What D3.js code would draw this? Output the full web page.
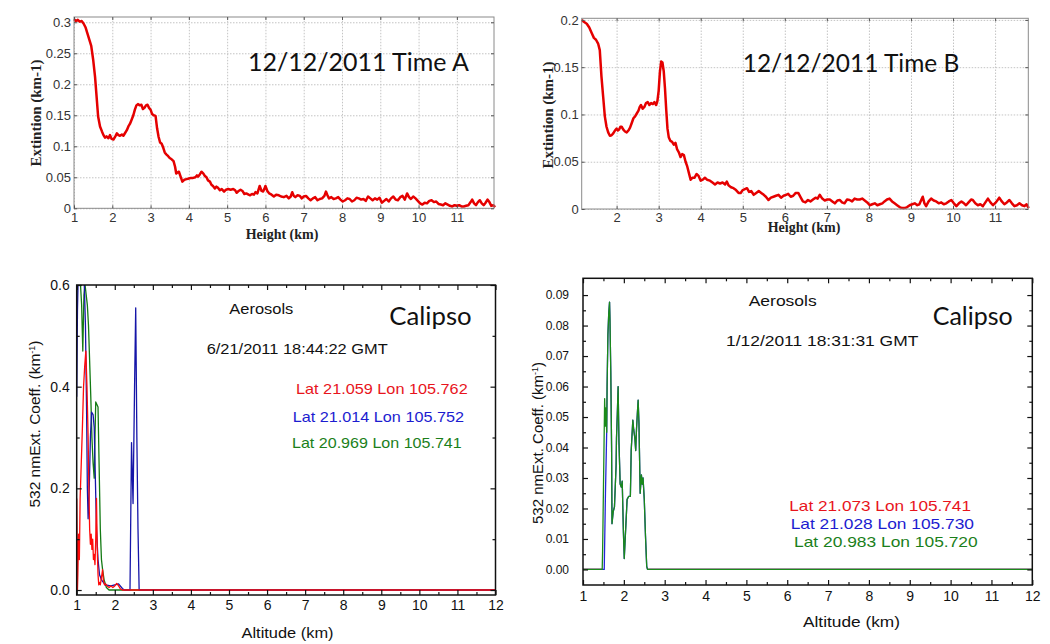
<!DOCTYPE html>
<html><head><meta charset="utf-8">
<script src="https://cdn.jsdelivr.net/npm/d3@7"></script>
<style>
body{margin:0;background:#fff;}
svg{display:block;}
</style></head>
<body>
<svg id="chart" width="1050" height="644"></svg>
<script>
// ---------- DATA ----------
const xTicksTopA = [1,2,3,4,5,6,7,8,9,10,11];
const xTicksTopB = [2,3,4,5,6,7,8,9,10,11];
const yTicksTopA = [0,0.05,0.1,0.15,0.2,0.25,0.3];
const yTicksTopB = [0,0.05,0.1,0.15,0.2];
const xTicksBottom = [1,2,3,4,5,6,7,8,9,10,11,12];
const yTicksC = [0,0.2,0.4,0.6];
const yTicksD = [0,0.01,0.02,0.03,0.04,0.05,0.06,0.07,0.08,0.09];

const titleA = "12/12/2011 Time A";
const titleB = "12/12/2011 Time B";
const timeC = "6/21/2011 18:44:22 GMT";
const timeD = "1/12/2011 18:31:31 GMT";
const legendC = ["Lat 21.059 Lon 105.762","Lat 21.014 Lon 105.752","Lat 20.969 Lon 105.741"];
const legendD = ["Lat 21.073 Lon 105.741","Lat 21.028 Lon 105.730","Lat 20.983 Lon 105.720"];

// Panel A: [height km, extinction]
const extinctionA = [
[1.00,0.305],[1.05,0.302],[1.10,0.304],[1.15,0.301],[1.20,0.302],[1.25,0.298],[1.30,0.292],[1.35,0.282],[1.40,0.272],[1.45,0.262],
[1.50,0.240],[1.55,0.212],[1.59,0.180],[1.63,0.148],[1.68,0.132],[1.73,0.124],[1.77,0.118],[1.81,0.114],[1.85,0.116],[1.90,0.113],
[1.94,0.118],[1.98,0.112],[2.03,0.111],[2.08,0.116],[2.12,0.121],[2.16,0.118],[2.20,0.117],[2.25,0.119],[2.29,0.117],[2.33,0.121],
[2.38,0.126],[2.42,0.132],[2.46,0.136],[2.50,0.142],[2.55,0.150],[2.59,0.159],[2.63,0.166],[2.67,0.168],[2.72,0.166],[2.76,0.167],
[2.80,0.160],[2.84,0.162],[2.88,0.166],[2.92,0.167],[2.96,0.162],[3.00,0.159],[3.04,0.152],[3.08,0.150],[3.13,0.149],[3.17,0.129],
[3.21,0.115],[3.25,0.106],[3.29,0.104],[3.33,0.098],[3.37,0.090],[3.41,0.087],[3.46,0.084],[3.50,0.081],[3.55,0.079],[3.60,0.076],
[3.64,0.067],[3.67,0.056],[3.71,0.058],[3.74,0.059],[3.78,0.052],[3.83,0.043],[3.88,0.046],[3.94,0.047],[4.00,0.048],[4.06,0.049],
[4.11,0.049],[4.17,0.050],[4.21,0.053],[4.24,0.051],[4.29,0.055],[4.33,0.059],[4.38,0.056],[4.42,0.052],[4.46,0.050],[4.50,0.045],
[4.55,0.043],[4.59,0.038],[4.63,0.036],[4.68,0.032],[4.72,0.035],[4.76,0.033],[4.81,0.029],[4.86,0.031],[4.92,0.027],[4.97,0.030],
[5.03,0.031],[5.09,0.030],[5.16,0.031],[5.21,0.029],[5.25,0.025],[5.30,0.028],[5.35,0.030],[5.40,0.028],[5.45,0.023],[5.50,0.024],
[5.56,0.022],[5.60,0.021],[5.65,0.023],[5.70,0.022],[5.74,0.026],[5.79,0.024],[5.85,0.036],[5.90,0.028],[5.94,0.027],[5.97,0.031],
[6.00,0.036],[6.05,0.028],[6.10,0.024],[6.16,0.022],[6.22,0.019],[6.28,0.022],[6.35,0.021],[6.41,0.019],[6.48,0.018],[6.55,0.020],
[6.61,0.016],[6.66,0.019],[6.70,0.026],[6.74,0.020],[6.78,0.018],[6.84,0.021],[6.90,0.020],[6.95,0.016],[7.00,0.019],[7.06,0.020],
[7.12,0.016],[7.18,0.013],[7.24,0.016],[7.30,0.018],[7.36,0.013],[7.42,0.015],[7.48,0.016],[7.54,0.020],[7.58,0.027],[7.62,0.021],
[7.66,0.016],[7.72,0.018],[7.78,0.015],[7.84,0.016],[7.90,0.018],[7.96,0.014],[8.02,0.011],[8.08,0.013],[8.14,0.016],[8.20,0.015],
[8.26,0.011],[8.32,0.013],[8.38,0.017],[8.44,0.016],[8.50,0.014],[8.56,0.015],[8.62,0.012],[8.68,0.019],[8.74,0.016],[8.80,0.013],
[8.86,0.016],[8.92,0.014],[8.98,0.017],[9.04,0.009],[9.10,0.012],[9.16,0.015],[9.22,0.011],[9.28,0.016],[9.34,0.019],[9.40,0.014],
[9.46,0.013],[9.52,0.018],[9.58,0.020],[9.64,0.014],[9.70,0.024],[9.75,0.018],[9.80,0.015],[9.86,0.019],[9.92,0.016],[9.98,0.012],
[10.04,0.008],[10.10,0.006],[10.16,0.009],[10.22,0.008],[10.28,0.012],[10.34,0.013],[10.40,0.010],[10.46,0.011],[10.52,0.007],[10.58,0.006],
[10.64,0.005],[10.70,0.008],[10.76,0.006],[10.82,0.004],[10.88,0.003],[10.94,0.005],[11.00,0.004],[11.06,0.005],[11.12,0.003],[11.18,0.003],
[11.24,0.004],[11.30,0.005],[11.36,0.010],[11.40,0.014],[11.45,0.008],[11.50,0.005],[11.55,0.010],[11.60,0.013],[11.65,0.008],[11.70,0.005],
[11.75,0.009],[11.80,0.014],[11.85,0.010],[11.90,0.004],[11.95,0.005],[12.00,0.002]
];

// Panel B: [height km, extinction]
const extinctionB = [
[1.17,0.200],[1.22,0.198],[1.29,0.196],[1.35,0.192],[1.41,0.186],[1.46,0.181],[1.51,0.179],[1.56,0.175],[1.60,0.168],[1.64,0.140],
[1.68,0.119],[1.72,0.098],[1.76,0.087],[1.80,0.081],[1.84,0.0775],[1.88,0.078],[1.92,0.080],[1.96,0.083],[2.00,0.085],[2.03,0.083],
[2.06,0.084],[2.09,0.087],[2.12,0.087],[2.16,0.084],[2.20,0.082],[2.24,0.081],[2.28,0.083],[2.32,0.086],[2.36,0.091],[2.40,0.096],
[2.44,0.098],[2.48,0.101],[2.52,0.104],[2.55,0.108],[2.58,0.110],[2.62,0.106],[2.66,0.108],[2.70,0.112],[2.74,0.113],[2.78,0.110],
[2.82,0.112],[2.86,0.111],[2.90,0.113],[2.94,0.110],[2.97,0.114],[3.00,0.125],[3.03,0.145],[3.06,0.156],[3.09,0.155],[3.12,0.146],
[3.15,0.128],[3.18,0.105],[3.21,0.085],[3.24,0.076],[3.28,0.072],[3.32,0.071],[3.36,0.068],[3.40,0.070],[3.44,0.063],[3.48,0.060],
[3.52,0.055],[3.56,0.058],[3.60,0.057],[3.64,0.050],[3.68,0.045],[3.72,0.038],[3.76,0.031],[3.80,0.033],[3.85,0.033],[3.90,0.037],
[3.95,0.035],[4.00,0.030],[4.05,0.031],[4.10,0.033],[4.15,0.031],[4.22,0.030],[4.28,0.028],[4.34,0.026],[4.40,0.028],[4.46,0.027],
[4.52,0.028],[4.58,0.026],[4.62,0.029],[4.66,0.025],[4.72,0.023],[4.78,0.022],[4.84,0.020],[4.90,0.017],[4.95,0.017],[5.00,0.020],
[5.05,0.021],[5.10,0.022],[5.15,0.018],[5.20,0.019],[5.26,0.015],[5.32,0.017],[5.38,0.019],[5.44,0.017],[5.50,0.015],[5.55,0.013],
[5.61,0.0095],[5.67,0.012],[5.73,0.013],[5.79,0.014],[5.85,0.015],[5.91,0.012],[5.97,0.014],[6.03,0.015],[6.08,0.016],[6.14,0.013],
[6.20,0.014],[6.26,0.017],[6.32,0.017],[6.38,0.012],[6.43,0.008],[6.49,0.007],[6.55,0.0095],[6.61,0.008],[6.67,0.010],[6.73,0.012],
[6.78,0.011],[6.83,0.015],[6.89,0.011],[6.95,0.009],[7.01,0.010],[7.07,0.010],[7.13,0.008],[7.19,0.006],[7.25,0.009],[7.31,0.0095],
[7.36,0.007],[7.42,0.006],[7.48,0.010],[7.54,0.0095],[7.60,0.008],[7.66,0.011],[7.72,0.010],[7.78,0.010],[7.84,0.011],[7.90,0.009],
[7.96,0.007],[8.02,0.004],[8.08,0.005],[8.14,0.006],[8.20,0.004],[8.26,0.005],[8.32,0.006],[8.37,0.008],[8.43,0.010],[8.49,0.011],
[8.55,0.008],[8.61,0.006],[8.67,0.004],[8.73,0.002],[8.79,0.001],[8.85,0.001],[8.91,0.002],[8.97,0.004],[9.03,0.005],[9.09,0.006],
[9.15,0.004],[9.20,0.005],[9.25,0.010],[9.28,0.013],[9.32,0.006],[9.36,0.003],[9.42,0.008],[9.48,0.011],[9.54,0.009],[9.60,0.008],
[9.66,0.006],[9.72,0.007],[9.78,0.005],[9.84,0.006],[9.90,0.008],[9.96,0.0095],[10.02,0.006],[10.08,0.003],[10.14,0.006],[10.20,0.008],
[10.26,0.006],[10.31,0.004],[10.37,0.007],[10.43,0.010],[10.47,0.0095],[10.53,0.006],[10.59,0.004],[10.65,0.005],[10.71,0.003],[10.77,0.007],
[10.83,0.011],[10.89,0.007],[10.95,0.004],[11.02,0.007],[11.10,0.012],[11.16,0.008],[11.22,0.005],[11.28,0.007],[11.34,0.0095],[11.40,0.006],
[11.46,0.003],[11.52,0.004],[11.58,0.006],[11.64,0.004],[11.70,0.003],[11.75,0.005],[11.80,0.001]
];

// Panel C (Calipso 6/21/2011): [altitude km, ext coeff]
const calipsoC_red = [
[1.00,0.18],[1.01,0.10],[1.02,0.0],[1.03,0.03],[1.05,0.11],[1.07,0.06],[1.09,0.18],[1.12,0.25],[1.15,0.32],[1.18,0.40],
[1.21,0.44],[1.24,0.47],[1.27,0.40],[1.30,0.30],[1.32,0.20],[1.34,0.12],[1.36,0.09],[1.38,0.11],[1.40,0.08],[1.42,0.10],
[1.44,0.06],[1.46,0.07],[1.48,0.05],[1.50,0.10],[1.52,0.18],[1.54,0.08],[1.56,0.03],[1.58,0.01],[1.60,0.015],[1.62,0.01],
[1.64,0.02],[1.66,0.03],[1.68,0.04],[1.70,0.02],[1.73,0.01],[1.76,0.012],[1.80,0.008],[1.85,0.005],[1.90,0.008],[1.95,0.005],
[2.00,0.008],[2.05,0.013],[2.10,0.008],[2.15,0.002],[2.20,0],[12.0,0]
];
const calipsoC_blue = [
[1.00,0.38],[1.02,0.55],[1.04,0.62],[1.10,0.65],[1.15,0.62],[1.20,0.60],[1.23,0.52],[1.26,0.35],[1.28,0.20],[1.30,0.14],
[1.33,0.20],[1.36,0.30],[1.39,0.35],[1.43,0.345],[1.46,0.32],[1.49,0.22],[1.52,0.12],[1.56,0.06],[1.60,0.03],[1.65,0.02],
[1.75,0.01],[1.90,0.008],[2.00,0.010],[2.10,0.012],[2.20,0.003],[2.25,0],[2.40,0],[2.44,0.29],[2.48,0.17],[2.52,0.40],
[2.55,0.555],[2.58,0.30],[2.61,0.12],[2.64,0],[12.0,0]
];
const calipsoC_green = [
[1.00,0.55],[1.02,0.62],[1.06,0.64],[1.10,0.60],[1.13,0.56],[1.16,0.47],[1.19,0.58],[1.22,0.60],[1.25,0.58],[1.28,0.56],
[1.31,0.52],[1.34,0.45],[1.37,0.38],[1.40,0.30],[1.43,0.25],[1.46,0.22],[1.48,0.30],[1.50,0.37],[1.53,0.365],[1.56,0.36],
[1.59,0.24],[1.62,0.12],[1.65,0.06],[1.68,0.04],[1.72,0.02],[1.78,0.005],[1.85,0],[12.0,0]
];

// Panel D (Calipso 1/12/2011); red profile is zero and hidden below green where green is zero
const calipsoD_red = [[1.0,0],[1.47,0],[1.5,null],[2.58,0],[12.0,0]];
const calipsoD_blue = [
[1.00,0],[1.52,0],[1.55,0.025],[1.58,0.045],[1.59,0.060],[1.61,0.077],[1.63,0.084],[1.65,0.0877],[1.66,0.082],[1.68,0.065],
[1.70,0.040],[1.71,0.015],[1.74,0.019],[1.77,0.0205],[1.81,0.034],[1.82,0.043],[1.84,0.051],[1.86,0.060],[1.88,0.042],[1.91,0.028],
[1.94,0.027],[1.96,0.029],[1.99,0.012],[2.01,0.0036],[2.04,0.012],[2.08,0.023],[2.12,0.024],[2.16,0.024],[2.18,0.039],[2.22,0.049],
[2.24,0.046],[2.27,0.043],[2.29,0.039],[2.31,0.046],[2.33,0.051],[2.35,0.0555],[2.37,0.048],[2.40,0.025],[2.43,0.031],[2.45,0.028],
[2.47,0.030],[2.50,0.023],[2.53,0.011],[2.56,0.001],[2.58,0],[12.0,0]
];
const calipsoD_green = [
[1.00,0],[1.47,0],[1.48,0.006],[1.50,0.026],[1.52,0.046],[1.53,0.056],[1.545,0.047],[1.56,0.053],[1.58,0.045],[1.59,0.060],
[1.61,0.077],[1.63,0.084],[1.65,0.0877],[1.66,0.082],[1.68,0.065],[1.70,0.040],[1.71,0.015],[1.74,0.019],[1.77,0.0205],[1.81,0.034],
[1.82,0.043],[1.84,0.051],[1.86,0.060],[1.88,0.042],[1.91,0.028],[1.94,0.027],[1.96,0.029],[1.99,0.012],[2.01,0.0036],[2.04,0.012],
[2.08,0.023],[2.12,0.024],[2.16,0.024],[2.18,0.039],[2.22,0.049],[2.24,0.046],[2.27,0.043],[2.29,0.039],[2.31,0.046],[2.33,0.051],
[2.35,0.0555],[2.37,0.048],[2.40,0.025],[2.43,0.031],[2.45,0.028],[2.47,0.030],[2.50,0.023],[2.53,0.011],[2.56,0.001],[2.58,0],
[12.0,0]
];

// ---------- DRAWING ----------
const svg = d3.select("#chart");
const NARROW = "'Liberation Sans Narrow','Liberation Sans',Arial,sans-serif";
const SANS = "'Liberation Sans',Arial,sans-serif";
const SERIF = "'Liberation Serif','Times New Roman',serif";
const TITLEF = "Lato,'Open Sans',sans-serif";

function topPanel(o){
  const g = svg.append("g");
  const x = d3.scaleLinear().domain(o.xDom).range([o.L,o.R]);
  const y = d3.scaleLinear().domain(o.yDom).range([o.B,o.T]);
  const H = o.B-o.T, W = o.R-o.L;
  g.append("g").attr("transform",`translate(0,${o.B})`)
    .call(d3.axisBottom(x).tickValues(o.xTicks).tickSize(-H).tickFormat(""))
    .call(s=>{s.select(".domain").remove();s.selectAll("line").attr("stroke","#c4c4c4").attr("stroke-dasharray","1.5,1.5");});
  g.append("g").attr("transform",`translate(${o.L},0)`)
    .call(d3.axisLeft(y).tickValues(o.yTicks).tickSize(-W).tickFormat(""))
    .call(s=>{s.select(".domain").remove();s.selectAll("line").attr("stroke","#c4c4c4").attr("stroke-dasharray","1.5,1.5");});
  g.append("path").datum(o.data)
    .attr("d",d3.line().x(d=>x(d[0])).y(d=>y(d[1])))
    .attr("fill","none").attr("stroke","#e50000").attr("stroke-width",2.5).attr("stroke-linejoin","round");
  g.append("rect").attr("x",o.L).attr("y",o.T).attr("width",W).attr("height",H)
    .attr("fill","none").attr("stroke","#8a8a8a").attr("stroke-width",1);
  const styleAx = s=>{s.select(".domain").remove();s.selectAll("line").attr("stroke","#555");
    s.selectAll("text").attr("fill","#333").style("font-family",NARROW).style("font-size","13px");};
  g.append("g").attr("transform",`translate(0,${o.B})`)
    .call(d3.axisBottom(x).tickValues(o.xTicks).tickSizeInner(-3).tickSizeOuter(0).tickPadding(4).tickFormat(d3.format("d"))).call(styleAx);
  g.append("g").attr("transform",`translate(0,${o.T})`)
    .call(d3.axisTop(x).tickValues(o.xTicks).tickSizeInner(-3).tickSizeOuter(0).tickFormat("")).call(styleAx);
  g.append("g").attr("transform",`translate(${o.L},0)`)
    .call(d3.axisLeft(y).tickValues(o.yTicks).tickSizeInner(-3).tickSizeOuter(0).tickPadding(3).tickFormat(d=>d3.format("~g")(d))).call(styleAx);
  g.append("g").attr("transform",`translate(${o.R},0)`)
    .call(d3.axisRight(y).tickValues(o.yTicks).tickSizeInner(-3).tickSizeOuter(0).tickFormat("")).call(styleAx);
  g.append("text").attr("x",o.xlab[0]).attr("y",o.xlab[1]).attr("text-anchor","middle")
    .style("font-family",SERIF).style("font-weight","bold").style("font-size","14px").attr("fill","#222").text("Height (km)");
  g.append("text").attr("transform",`translate(${o.ylab[0]},${o.ylab[1]}) rotate(-90)`).attr("text-anchor","middle")
    .style("font-family",SERIF).style("font-weight","bold").style("font-size","15px").attr("fill","#222").text("Extintion (km-1)");
  g.append("text").attr("x",o.title[0]).attr("y",o.title[1]).attr("textLength",o.title[2]).attr("lengthAdjust","spacingAndGlyphs")
    .style("font-family",TITLEF).style("font-size","25px").attr("fill","#111").text(o.titleText);
}

topPanel({L:74,R:494,T:17,B:208.3,xDom:[1,11.97],yDom:[0,0.3085],xTicks:xTicksTopA,yTicks:yTicksTopA,
  data:extinctionA,xlab:[282,239],ylab:[41,113],title:[248,71,221],titleText:titleA});
topPanel({L:581.7,R:1028.3,T:18.3,B:209,xDom:[1.17,11.79],yDom:[0,0.2017],xTicks:xTicksTopB,yTicks:yTicksTopB,
  data:extinctionB,xlab:[804,231.5],ylab:[553,115],title:[742.7,72,216.6],titleText:titleB});

let clipId = 0;
function bottomPanel(o){
  const g = svg.append("g");
  const x = d3.scaleLinear().domain([1,12]).range([o.L,o.R]);
  const y = d3.scaleLinear().domain(o.yDom).range([o.B,o.T]);
  const H = o.B-o.T, W = o.R-o.L;
  const id = "clip"+(clipId++);
  g.append("clipPath").attr("id",id).append("rect").attr("x",o.L).attr("y",o.T).attr("width",W).attr("height",H);
  const line = d3.line().defined(d=>d[1]!=null).x(d=>x(d[0])).y(d=>y(d[1]));
  const lines = g.append("g").attr("clip-path",`url(#${id})`);
  o.series.forEach(s=>{
    lines.append("path").datum(s.data).attr("d",line).attr("fill","none")
      .attr("stroke",s.color).attr("stroke-width",1.3).attr("stroke-linejoin","round");
  });
  g.append("rect").attr("x",o.L).attr("y",o.T).attr("width",W).attr("height",H)
    .attr("fill","none").attr("stroke","#111").attr("stroke-width",1.5);
  const styleAx = (fs,fam)=>s=>{s.select(".domain").remove();s.selectAll("line").attr("stroke","#111").attr("stroke-width",1.2);
    s.selectAll("text").attr("fill","#111").style("font-family",fam).style("font-size",fs);};
  const xMinor = d3.range(1.5,12,1);
  g.append("g").attr("transform",`translate(0,${o.B})`)
    .call(d3.axisBottom(x).tickValues(xTicksBottom).tickSizeInner(-5).tickSizeOuter(0).tickPadding(o.xPad).tickFormat(d3.format("d"))).call(styleAx("14px",SANS));
  g.append("g").attr("transform",`translate(0,${o.B})`)
    .call(d3.axisBottom(x).tickValues(xMinor).tickSizeInner(-3).tickSizeOuter(0).tickFormat("")).call(styleAx("14px",SANS));
  g.append("g").attr("transform",`translate(0,${o.T})`)
    .call(d3.axisTop(x).tickValues(xTicksBottom).tickSizeInner(-5).tickSizeOuter(0).tickFormat("")).call(styleAx("14px",SANS));
  g.append("g").attr("transform",`translate(0,${o.T})`)
    .call(d3.axisTop(x).tickValues(xMinor).tickSizeInner(-3).tickSizeOuter(0).tickFormat("")).call(styleAx("14px",SANS));
  g.append("g").attr("transform",`translate(${o.L},0)`)
    .call(d3.axisLeft(y).tickValues(o.yTicks).tickSizeInner(-5).tickSizeOuter(0).tickPadding(o.yPad).tickFormat(d3.format(o.yFmt))).call(styleAx(o.yFs,o.yFam));
  g.append("g").attr("transform",`translate(${o.L},0)`)
    .call(d3.axisLeft(y).tickValues(o.yMinor).tickSizeInner(-3).tickSizeOuter(0).tickFormat("")).call(styleAx(o.yFs,o.yFam));
  g.append("g").attr("transform",`translate(${o.R},0)`)
    .call(d3.axisRight(y).tickValues(o.yTicks).tickSizeInner(-5).tickSizeOuter(0).tickFormat("")).call(styleAx(o.yFs,o.yFam));
  g.append("g").attr("transform",`translate(${o.R},0)`)
    .call(d3.axisRight(y).tickValues(o.yMinor).tickSizeInner(-3).tickSizeOuter(0).tickFormat("")).call(styleAx(o.yFs,o.yFam));
  g.append("text").attr("x",o.xlab[0]).attr("y",o.xlab[1]).attr("text-anchor","middle")
    .attr("textLength",o.xlab[2]).attr("lengthAdjust","spacingAndGlyphs")
    .style("font-family",SANS).style("font-size","15px").attr("fill","#111").text("Altitude (km)");
  const yl = g.append("text").attr("transform",`translate(${o.ylab[0]},${o.ylab[1]}) rotate(-90)`).attr("text-anchor","middle")
    .style("font-family",SANS).style("font-size",o.ylab[2]).attr("fill","#111");
  yl.append("tspan").text("532 nmExt. Coeff. (km");
  yl.append("tspan").attr("dy",-5).style("font-size","9px").text("-1");
  yl.append("tspan").attr("dy",5).text(")");
  const txt = (t,p,col,fs,fam)=>g.append("text").attr("x",p[0]).attr("y",p[1])
    .attr("textLength",p[2]).attr("lengthAdjust","spacingAndGlyphs")
    .style("font-family",fam||SANS).style("font-size",fs).attr("fill",col).text(t);
  txt("Aerosols",o.aer,"#111","14px");
  txt(o.time,o.timePos,"#111","14px");
  txt("Calipso",o.cal,"#111","25px",TITLEF);
  const cols = ["#e8141c","#1c1cd0","#1b7f1b"];
  o.legend.forEach((t,i)=>txt(t,o.legPos[i],cols[i],"14.5px"));
}

bottomPanel({L:76.7,R:495.5,T:285,B:595,yDom:[-0.0098,0.6],yTicks:yTicksC,yMinor:[0.1,0.3,0.5],yFmt:".1f",yPad:7,xPad:5,
  yFs:"14px",yFam:SANS,
  series:[{data:calipsoC_green,color:"#137a13"},{data:calipsoC_blue,color:"#1515a8"},{data:calipsoC_red,color:"#ff0a0a"}],
  xlab:[287.5,638,92],ylab:[40,424,"15.5px"],aer:[229.3,314.3,64],time:timeC,timePos:[206.7,354,181],cal:[389.3,325,82.4],
  legend:legendC,legPos:[[296,394,171.7],[292.7,421.7,171.3],[292,448.3,169.7]]});

bottomPanel({L:583,R:1032.3,T:278.3,B:585,yDom:[-0.0051,0.0955],yTicks:yTicksD,yMinor:d3.range(0.005,0.095,0.01),yFmt:".2f",yPad:14,xPad:6,
  yFs:"12px",yFam:NARROW,
  series:[{data:calipsoD_red,color:"#ff0a0a"},{data:calipsoD_blue,color:"#2323d8"},{data:calipsoD_green,color:"#1a8a1a"}],
  xlab:[851.5,627,97],ylab:[543,443,"15px"],aer:[748.7,306,68],time:timeD,timePos:[726,346,192.3],cal:[932.7,325,80],
  legend:legendD,legPos:[[789.3,510.7,181.7],[790.7,529.3,183.3],[794,547.3,183.7]]});
</script>
</body></html>
